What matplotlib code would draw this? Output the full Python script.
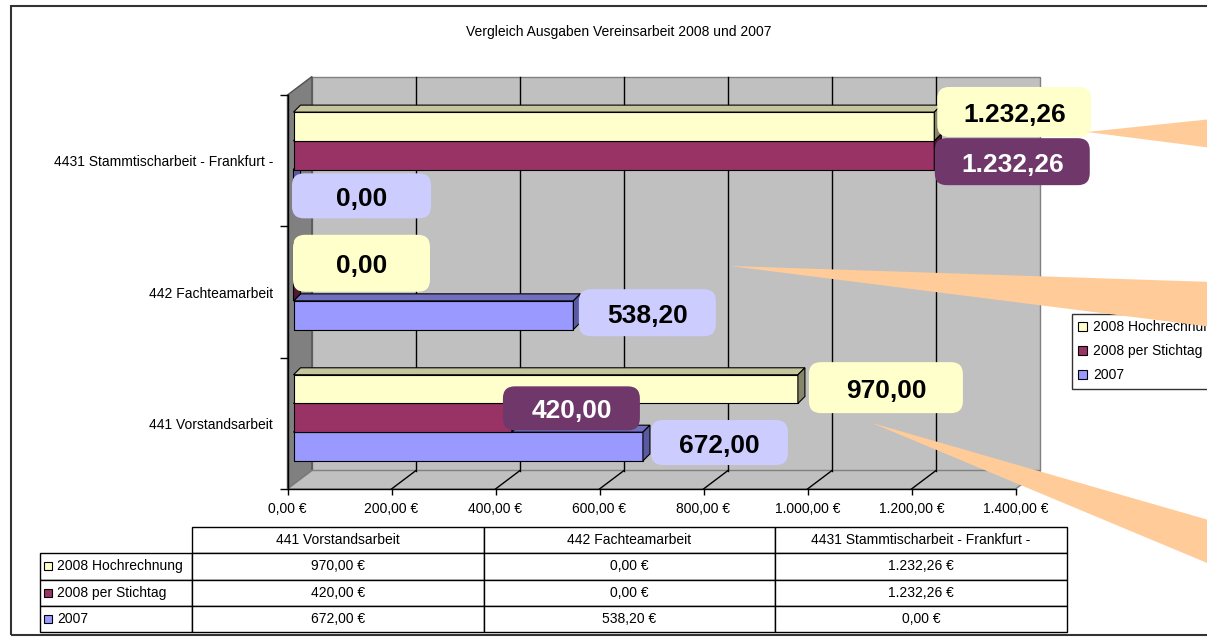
import matplotlib
matplotlib.use("Agg")
import matplotlib.pyplot as plt
from matplotlib.patches import Polygon, Rectangle, FancyBboxPatch, Patch

plt.rcParams['font.family'] = ['Liberation Sans', 'DejaVu Sans']

# Daten
titel = "Vergleich Ausgaben Vereinsarbeit 2008 und 2007"
kategorien = ["441 Vorstandsarbeit", "442 Fachteamarbeit", "4431 Stammtischarbeit - Frankfurt -"]
serien = ["2008 Hochrechnung", "2008 per Stichtag", "2007"]
hochrechnung_2008 = [970.00, 0.00, 1232.26]
stichtag_2008 = [420.00, 0.00, 1232.26]
jahr_2007 = [672.00, 538.20, 0.00]
x_ticks = [0, 200, 400, 600, 800, 1000, 1200, 1400]
werte = [hochrechnung_2008, stichtag_2008, jahr_2007]


def eur(v, zeichen=True):
    s = f"{v:,.2f}".replace(",", "X").replace(".", ",").replace("X", ".")
    return s + " €" if zeichen else s


# farben: front, oben, seite
c_front = ['#FFFFCC', '#993366', '#9999FF']
c_top = ['#C6C69E', '#73264D', '#7070BE']
c_side = ['#86866A', '#4D1A33', '#5A5AA2']
c_label = ['#FFFFCC', '#6F376A', '#CCCCFF']
c_ltext = ['black', 'white', 'black']

W, H = 1207, 638
fig = plt.figure(figsize=(W / 100, H / 100), dpi=100)

# vordere ebene der achse (pixel)
x0, x1, yt, yb = 287.5, 1015.5, 95, 489
ax = fig.add_axes([x0 / W, 1 - yb / H, (x1 - x0) / W, (yb - yt) / H])
ax.set_xlim(0, 1400)
ax.set_ylim(-0.5, 2.5)
ax.patch.set_visible(False)
sx = (x1 - x0) / 1400.0   # px pro euro
sy = (yb - yt) / 3.0      # px pro kategorie

WX, WY = 24.5 / sx, 18.5 / sy   # wandtiefe
BX, BY = 6 / sx, 5.5 / sy       # lage der balken
DX, DY = 7 / sx, 7 / sy         # balkentiefe
h = 28.7 / sy
offs = [h, 0, -h]

# rueckwand, seitenwand, boden
ax.add_patch(Rectangle((WX, -0.5 + WY), 1400, 3, fc='#C0C0C0', ec='#808080', lw=1,
                       zorder=0.5, clip_on=False))
ax.add_patch(Polygon([(0, -0.5), (WX, -0.5 + WY), (WX, 2.5 + WY), (0, 2.5)],
                     fc='#808080', ec='#505050', lw=1, zorder=0.6, clip_on=False))
ax.add_patch(Polygon([(WX, -0.5 + WY), (0, -0.5), (1400, -0.5), (1400 + WX, -0.5 + WY)],
                     fc='#C0C0C0', ec='#808080', lw=1, zorder=0.6, clip_on=False))
for v in x_ticks[1:-1]:
    ax.plot([v + WX, v + WX], [-0.5 + WY, 2.5 + WY], color='black', lw=1, zorder=0.7, clip_on=False)
    ax.plot([v, v + WX], [-0.5, -0.5 + WY], color='black', lw=1, zorder=0.7, clip_on=False)

# balken, von unten nach oben
for j in [2, 1, 0]:
    z = 3 + (2 - j)
    for i in range(3):
        v = werte[j][i]
        yc = i + BY + offs[j]
        y0, y1 = yc - h / 2, yc + h / 2
        ax.add_patch(Polygon([(BX, y1), (BX + v, y1), (BX + v + DX, y1 + DY), (BX + DX, y1 + DY)],
                             fc=c_top[j], ec='black', lw=0.8, zorder=z, clip_on=False))
        ax.barh(yc, v, height=h, left=BX, color=c_front[j], edgecolor='black', lw=0.8,
                zorder=z + 0.1, clip_on=False)
        ax.add_patch(Polygon([(BX + v, y0), (BX + v + DX, y0 + DY), (BX + v + DX, y1 + DY), (BX + v, y1)],
                             fc=c_side[j], ec='black', lw=0.8, zorder=z + 0.2, clip_on=False))

# datenbeschriftungen (versatz in px zum balkenende)
lab_dx = [[88, 68, 80], [59.5, 0, 78], [76.5, 74, 68]]
lab_dy = [[-1.5, 5.5, -14.5], [-9.5, 0, 6.5], [-4, -2.5, 12]]
lab_w = [[154, 137, 154], [137, 0, 155], [137, 137, 139]]
lab_h = [[51, 57, 50], [44, 0, 47], [45, 47, 45]]
for j in range(3):
    for i in range(3):
        if lab_w[j][i] == 0:
            continue
        v = werte[j][i]
        cx = BX + v + lab_dx[j][i] / sx
        cy = i + BY + offs[j] - lab_dy[j][i] / sy
        bw, bh = lab_w[j][i] / sx, lab_h[j][i] / sy
        ax.add_patch(FancyBboxPatch((cx - bw / 2, cy - bh / 2), bw, bh,
                                    boxstyle=f"round,pad=0,rounding_size={12 / sx}",
                                    mutation_aspect=sx / sy, fc=c_label[j], ec='none',
                                    zorder=20, clip_on=False))
        ax.text(cx, cy - 3 / sy, eur(v, False), ha='center', va='center', fontsize=19,
                fontweight='bold', color=c_ltext[j], zorder=21)

# achsen
for s in ['top', 'right']:
    ax.spines[s].set_visible(False)
for s in ['left', 'bottom']:
    ax.spines[s].set_color('black')
    ax.spines[s].set_linewidth(1)
ax.set_xticks(x_ticks)
ax.set_xticklabels([eur(v) for v in x_ticks], fontsize=10)
ax.tick_params(axis='x', length=4.3, width=1, pad=5)
ax.set_yticks(range(3))
ax.set_yticklabels(kategorien, fontsize=10)
ax.set_yticks([-0.5, 0.5, 1.5, 2.5], minor=True)
ax.tick_params(axis='y', which='major', length=0, pad=10.4)
ax.tick_params(axis='y', which='minor', length=5.8, width=1)

# titel und rahmen
fig.text(619 / W, 1 - 32 / H, titel, ha='center', va='center', fontsize=10)
fig.add_artist(Rectangle((11 / W, 1 - 635 / H), 1.2, 629 / H, transform=fig.transFigure,
                         fill=False, ec='#333333', lw=1.5, zorder=0))

# legende (rechts vom bildrand abgeschnitten wie im original)
handles = [Patch(fc=c, ec='black', lw=0.8) for c in c_front]
leg = fig.legend(handles, serien, loc='upper left', bbox_to_anchor=(1072 / W, 1 - 314 / H),
                 fontsize=10, frameon=True, fancybox=False, edgecolor='black',
                 handlelength=0.6, handleheight=0.6, handletextpad=0.45, borderpad=0.45,
                 labelspacing=0.72, borderaxespad=0)
leg.get_frame().set_linewidth(1)

# datentabelle
tax = fig.add_axes([40 / W, 1 - 632 / H, 1027 / W, 105 / H])
tax.axis('off')
zellen = [[serien[j]] + [eur(v) for v in werte[j]] for j in range(3)]
tbl = tax.table(cellText=zellen, colLabels=[""] + kategorien,
                colWidths=[152 / 1027] + [291.67 / 1027] * 3, cellLoc='center', bbox=[0, 0, 1, 1])
tbl.auto_set_font_size(False)
tbl.set_fontsize(10)
for (r, c), cell in tbl.get_celld().items():
    cell.set_edgecolor('black')
    cell.set_linewidth(1)
    if r == 0 and c == 0:
        cell.visible_edges = ''
    if c == 0 and r > 0:
        cell.PAD = 0.112
        cell.set_text_props(ha='left')
for j in range(3):
    yc = 1 - (j + 1.5) / 4
    tax.add_patch(Rectangle((4 / 1027, yc - 4 / 105), 8 / 1027, 8 / 105, fc=c_front[j],
                            ec='black', lw=0.8, zorder=5, clip_on=False))

# orange legenden-zeiger
keile = [[(1087, 132), (1212, 119), (1212, 148)],
         [(730, 266), (1212, 282), (1212, 327)],
         [(872, 423), (1212, 521), (1212, 565)]]
for k in keile:
    fig.add_artist(Polygon([(x / W, 1 - y / H) for x, y in k], closed=True,
                           transform=fig.transFigure, fc='#FFCC99', ec='none', zorder=6))

fig.savefig("out.png", dpi=100)
